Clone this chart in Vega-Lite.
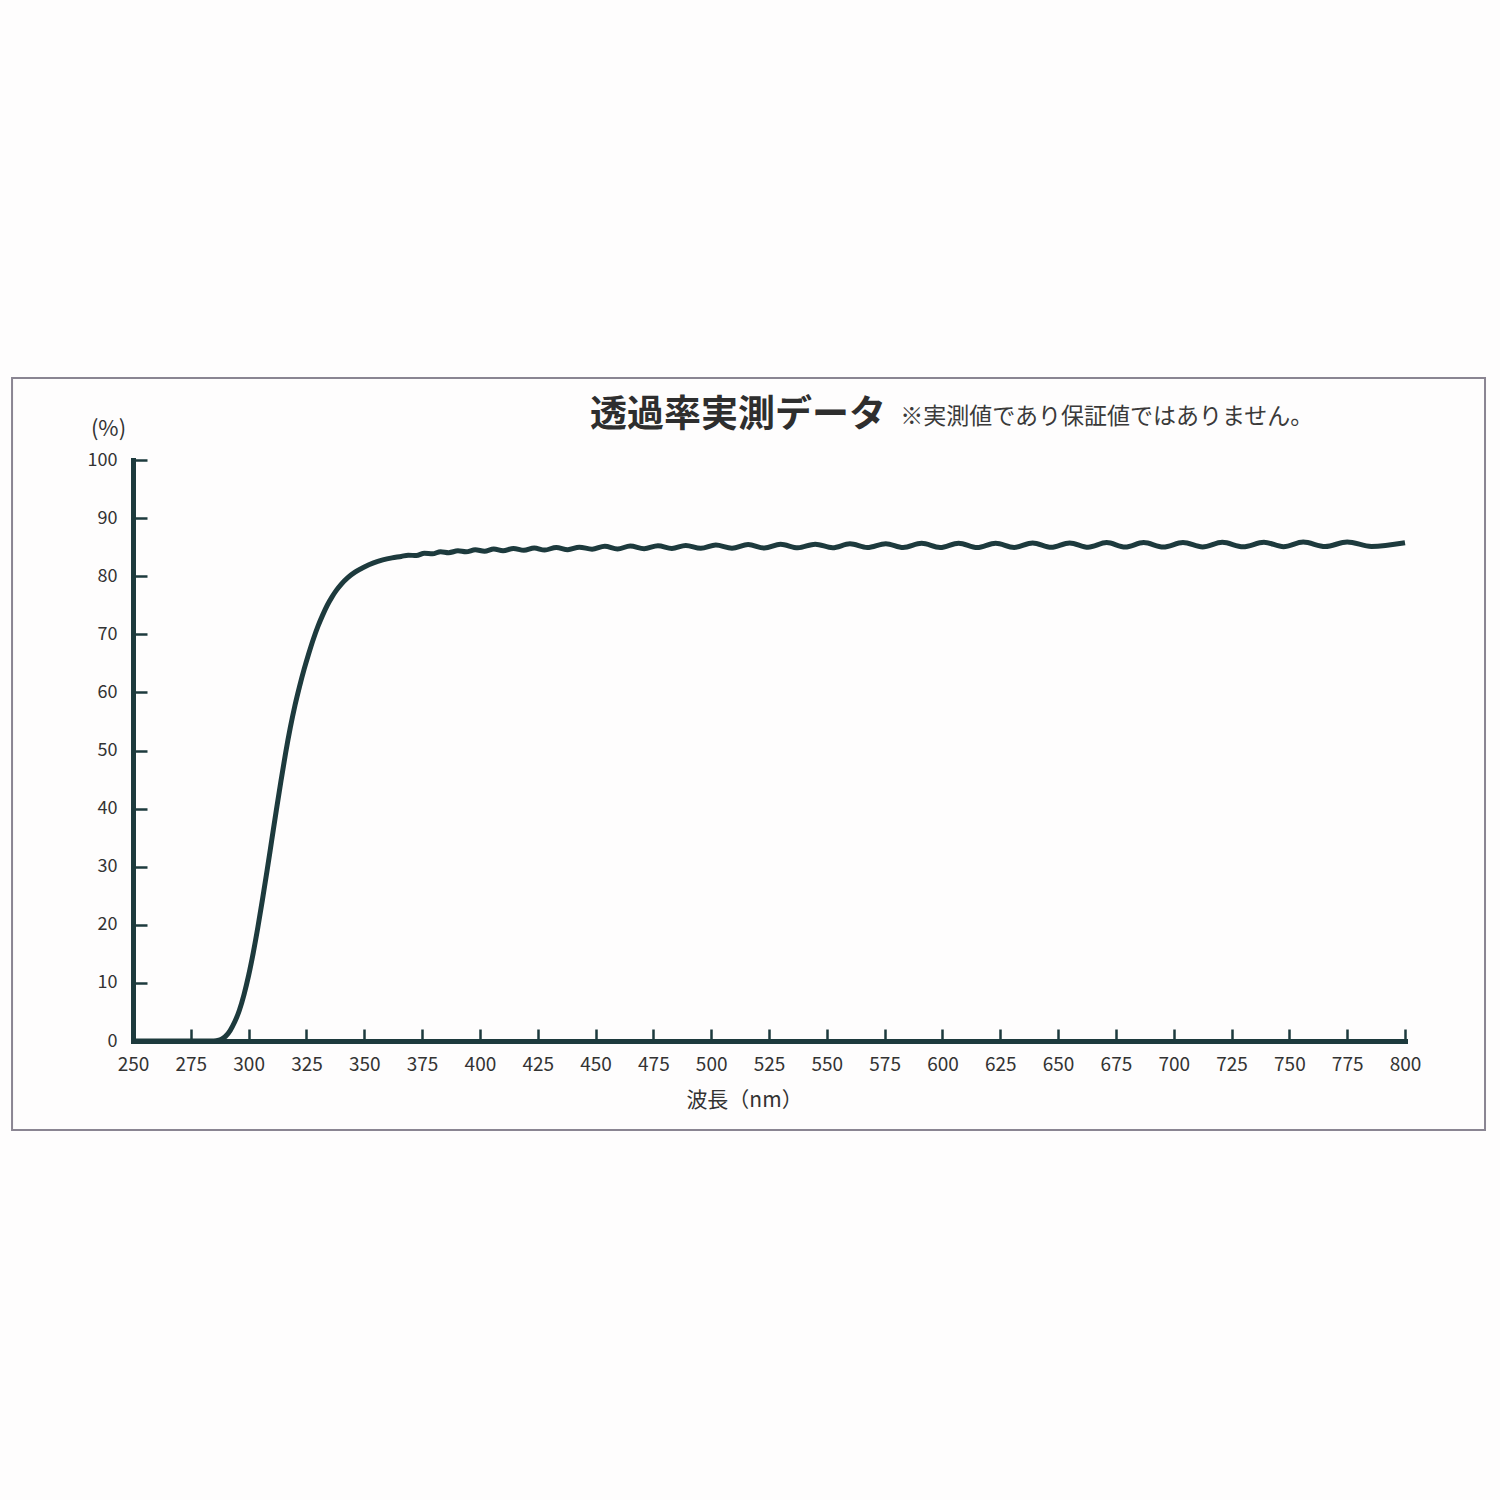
{
  "$schema": "https://vega.github.io/schema/vega-lite/v6.json",
  "width": 1272,
  "height": 581,
  "autosize": {"type": "none"},
  "padding": {"left": 133, "top": 460, "right": 95, "bottom": 459},
  "background": "#fefdfd",
  "config": {"view": {"stroke": null}, "font": "Noto Sans CJK JP"},
  "layer": [
    {
      "data": {"values": [{}]},
      "mark": {"type": "rect", "fill": "transparent", "stroke": "#8a8592", "strokeWidth": 2, "clip": false},
      "encoding": {
        "x": {"datum": 197.7, "type": "quantitative"},
        "x2": {"datum": 834.6},
        "y": {"datum": 114.1, "type": "quantitative"},
        "y2": {"datum": -15.3}
      }
    },
    {
      "data": {"values": [{"t": "透過率実測データ"}]},
      "mark": {"type": "text", "align": "left", "baseline": "middle", "fontSize": 37, "fontWeight": "bold", "color": "#2e2e2e"},
      "encoding": {
        "x": {"datum": 447.6, "type": "quantitative"},
        "y": {"datum": 107.6, "type": "quantitative"},
        "text": {"field": "t"}
      }
    },
    {
      "data": {"values": [{"t": "※実測値であり保証値ではありません。"}]},
      "mark": {"type": "text", "align": "left", "baseline": "middle", "fontSize": 23, "color": "#3a3a3a"},
      "encoding": {
        "x": {"datum": 581.7, "type": "quantitative"},
        "y": {"datum": 107.4, "type": "quantitative"},
        "text": {"field": "t"}
      }
    },
    {
      "data": {"values": [
        {"wavelength": 250, "transmittance": 0},
        {"wavelength": 270, "transmittance": 0},
        {"wavelength": 284, "transmittance": 0},
        {"wavelength": 286, "transmittance": 0.05},
        {"wavelength": 288, "transmittance": 0.25},
        {"wavelength": 290, "transmittance": 0.8},
        {"wavelength": 292, "transmittance": 1.8},
        {"wavelength": 294, "transmittance": 3.3},
        {"wavelength": 296, "transmittance": 5.3},
        {"wavelength": 298, "transmittance": 8.0},
        {"wavelength": 300, "transmittance": 11.3},
        {"wavelength": 302, "transmittance": 15.2},
        {"wavelength": 304, "transmittance": 19.6},
        {"wavelength": 306, "transmittance": 24.4},
        {"wavelength": 308, "transmittance": 29.4},
        {"wavelength": 310, "transmittance": 34.6},
        {"wavelength": 312, "transmittance": 39.8},
        {"wavelength": 314, "transmittance": 44.8},
        {"wavelength": 316, "transmittance": 49.6},
        {"wavelength": 318, "transmittance": 53.9},
        {"wavelength": 320, "transmittance": 57.7},
        {"wavelength": 322, "transmittance": 61.0},
        {"wavelength": 324, "transmittance": 64.0},
        {"wavelength": 326, "transmittance": 66.7},
        {"wavelength": 328, "transmittance": 69.2},
        {"wavelength": 330, "transmittance": 71.4},
        {"wavelength": 332, "transmittance": 73.3},
        {"wavelength": 334, "transmittance": 75.0},
        {"wavelength": 336, "transmittance": 76.4},
        {"wavelength": 338, "transmittance": 77.6},
        {"wavelength": 340, "transmittance": 78.6},
        {"wavelength": 343, "transmittance": 79.8},
        {"wavelength": 346, "transmittance": 80.7},
        {"wavelength": 350, "transmittance": 81.6},
        {"wavelength": 354, "transmittance": 82.3},
        {"wavelength": 358, "transmittance": 82.8},
        {"wavelength": 362, "transmittance": 83.15},
        {"wavelength": 366, "transmittance": 83.4},
        {"wavelength": 369, "transmittance": 83.62},
        {"wavelength": 372.5, "transmittance": 83.55},
        {"wavelength": 376, "transmittance": 83.97},
        {"wavelength": 379.5, "transmittance": 83.85},
        {"wavelength": 383, "transmittance": 84.22},
        {"wavelength": 386.5, "transmittance": 84.05},
        {"wavelength": 390.5, "transmittance": 84.37},
        {"wavelength": 394, "transmittance": 84.2},
        {"wavelength": 398, "transmittance": 84.55},
        {"wavelength": 402, "transmittance": 84.3},
        {"wavelength": 406, "transmittance": 84.68},
        {"wavelength": 410, "transmittance": 84.37},
        {"wavelength": 414.5, "transmittance": 84.78},
        {"wavelength": 419, "transmittance": 84.45},
        {"wavelength": 423.5, "transmittance": 84.85},
        {"wavelength": 428, "transmittance": 84.5},
        {"wavelength": 433, "transmittance": 84.95},
        {"wavelength": 438, "transmittance": 84.57},
        {"wavelength": 443, "transmittance": 85.0},
        {"wavelength": 448.5, "transmittance": 84.65},
        {"wavelength": 454, "transmittance": 85.15},
        {"wavelength": 459.5, "transmittance": 84.68},
        {"wavelength": 465, "transmittance": 85.2},
        {"wavelength": 471, "transmittance": 84.73},
        {"wavelength": 477, "transmittance": 85.25},
        {"wavelength": 483, "transmittance": 84.78},
        {"wavelength": 489, "transmittance": 85.3},
        {"wavelength": 495.5, "transmittance": 84.8},
        {"wavelength": 502, "transmittance": 85.37},
        {"wavelength": 509, "transmittance": 84.82},
        {"wavelength": 516, "transmittance": 85.45},
        {"wavelength": 523, "transmittance": 84.85},
        {"wavelength": 530, "transmittance": 85.5},
        {"wavelength": 537.5, "transmittance": 84.88},
        {"wavelength": 545, "transmittance": 85.52},
        {"wavelength": 552.5, "transmittance": 84.9},
        {"wavelength": 560, "transmittance": 85.57},
        {"wavelength": 567.5, "transmittance": 84.93},
        {"wavelength": 575.5, "transmittance": 85.6},
        {"wavelength": 583, "transmittance": 84.95},
        {"wavelength": 591, "transmittance": 85.66},
        {"wavelength": 599, "transmittance": 84.94},
        {"wavelength": 607, "transmittance": 85.68},
        {"wavelength": 615, "transmittance": 84.92},
        {"wavelength": 623, "transmittance": 85.68},
        {"wavelength": 631, "transmittance": 84.95},
        {"wavelength": 639, "transmittance": 85.72},
        {"wavelength": 647, "transmittance": 84.97},
        {"wavelength": 655, "transmittance": 85.73},
        {"wavelength": 663, "transmittance": 84.98},
        {"wavelength": 671, "transmittance": 85.78},
        {"wavelength": 679, "transmittance": 85.01},
        {"wavelength": 687, "transmittance": 85.78},
        {"wavelength": 695.5, "transmittance": 85.02},
        {"wavelength": 704, "transmittance": 85.8},
        {"wavelength": 712.5, "transmittance": 85.03},
        {"wavelength": 721, "transmittance": 85.83},
        {"wavelength": 730, "transmittance": 85.06},
        {"wavelength": 739, "transmittance": 85.84},
        {"wavelength": 747.5, "transmittance": 85.08},
        {"wavelength": 756, "transmittance": 85.88},
        {"wavelength": 765.5, "transmittance": 85.1},
        {"wavelength": 775, "transmittance": 85.9},
        {"wavelength": 785.5, "transmittance": 85.12},
        {"wavelength": 800, "transmittance": 85.75}
      ]},
      "mark": {"type": "line", "color": "#1d3a3d", "strokeWidth": 5, "interpolate": "monotone", "clip": false},
      "encoding": {
        "x": {
          "field": "wavelength",
          "type": "quantitative",
          "scale": {"domain": [250, 800], "nice": false, "zero": false},
          "axis": {
            "values": [250, 275, 300, 325, 350, 375, 400, 425, 450, 475, 500, 525, 550, 575, 600, 625, 650, 675, 700, 725, 750, 775, 800],
            "title": "波長（nm）",
            "titleFontSize": 21,
            "titleFontWeight": "normal",
            "titleColor": "#333333",
            "titleX": 611,
            "titleY": 59,
            "titleAlign": "center",
            "titleBaseline": "middle",
            "labelFontSize": 19,
            "labelColor": "#333333",
            "labelBaseline": "middle",
            "labelPadding": 35,
            "labelFlush": false,
            "labelOverlap": false,
            "tickSize": -12,
            "tickWidth": 2.5,
            "tickColor": "#1d3a3d",
            "domainColor": "#1d3a3d",
            "domainWidth": 5,
            "domainCap": "square",
            "grid": false
          }
        },
        "y": {
          "field": "transmittance",
          "type": "quantitative",
          "scale": {"domain": [0, 100], "nice": false},
          "axis": {
            "values": [0, 10, 20, 30, 40, 50, 60, 70, 80, 90, 100],
            "title": "(%)",
            "titleAngle": 0,
            "titleX": -25,
            "titleY": -32,
            "titleAlign": "center",
            "titleBaseline": "middle",
            "titleFontSize": 22,
            "titleFontWeight": "normal",
            "titleColor": "#333333",
            "labelFontSize": 18,
            "labelColor": "#333333",
            "labelBaseline": "middle",
            "labelPadding": 30,
            "labelFlush": false,
            "labelOverlap": false,
            "tickSize": -14,
            "tickWidth": 2.5,
            "tickColor": "#1d3a3d",
            "domainColor": "#1d3a3d",
            "domainWidth": 5,
            "domainCap": "square",
            "grid": false
          }
        }
      }
    }
  ]
}
